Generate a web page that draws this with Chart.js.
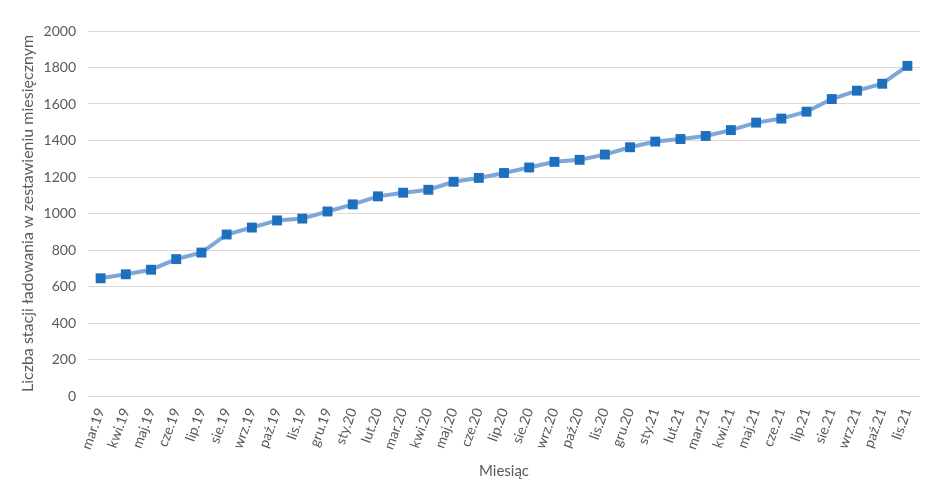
<!DOCTYPE html>
<html>
<head>
<meta charset="utf-8">
<script src="https://cdn.jsdelivr.net/npm/chart.js@4/dist/chart.umd.min.js"></script>
<style>
  html, body { margin: 0; padding: 0; background: #fff; }
  #wrap { width: 940px; height: 501px; }
</style>
</head>
<body>
<div id="wrap"><canvas id="myChart"></canvas></div>
<script>
const months = ['mar.19','kwi.19','maj.19','cze.19','lip.19','sie.19','wrz.19','paź.19','lis.19','gru.19',
  'sty.20','lut.20','mar.20','kwi.20','maj.20','cze.20','lip.20','sie.20','wrz.20','paź.20','lis.20','gru.20',
  'sty.21','lut.21','mar.21','kwi.21','maj.21','cze.21','lip.21','sie.21','wrz.21','paź.21','lis.21'];
const stations = [645, 667, 692, 750, 786, 885, 923, 962, 972, 1011,
  1050, 1094, 1114, 1130, 1174, 1195, 1222, 1252, 1283, 1294, 1323, 1363,
  1394, 1408, 1425, 1457, 1498, 1520, 1558, 1627, 1673, 1711, 1809];
const yMin = 0, yMax = 2000, yStep = 200;
const xTitle = 'Miesiąc';
const yTitle = 'Liczba stacji ładowania w zestawieniu miesięcznym';

const textGray = '#595959';
const font = 'Lato, "Open Sans", sans-serif';

const ctx = document.getElementById('myChart').getContext('2d');
const myChart = new Chart(ctx, {
    type: 'line',
    data: {
        labels: months,
        datasets: [{
            data: stations,
            borderColor: '#7ea7d8',
            borderWidth: 4,
            pointStyle: 'rect',
            pointRadius: 7,
            pointBackgroundColor: '#1f6fbf',
            pointBorderColor: '#1f6fbf',
            pointBorderWidth: 0,
            tension: 0
        }]
    },
    options: {
        responsive: true,
        maintainAspectRatio: false,
        animation: false,
        layout: { padding: { left: 14, right: 20, top: 31, bottom: 17 } },
        plugins: {
            legend: { display: false },
            tooltip: { enabled: false }
        },
        scales: {
            x: {
                offset: true,
                grid: { display: false },
                border: { display: false },
                ticks: {
                    color: textGray,
                    font: { family: font, size: 14 },
                    maxRotation: 70,
                    minRotation: 70,
                    autoSkip: false,
                    padding: 2
                },
                title: {
                    display: true,
                    text: xTitle,
                    color: textGray,
                    font: { family: font, size: 15 },
                    padding: { top: 6 }
                },
                afterFit: (scale) => { scale.height = 88; }
            },
            y: {
                min: yMin,
                max: yMax,
                grid: { color: '#d9d9d9', lineWidth: 1, drawTicks: false },
                border: { display: false },
                ticks: {
                    stepSize: yStep,
                    color: textGray,
                    font: { family: font, size: 14 },
                    padding: 12,
                    callback: (v) => String(v)
                },
                title: {
                    display: true,
                    text: yTitle,
                    color: textGray,
                    font: { family: font, size: 16 },
                    padding: { bottom: 4 }
                },
                afterFit: (scale) => { scale.width = 74; }
            }
        }
    }
});
</script>
</body>
</html>
